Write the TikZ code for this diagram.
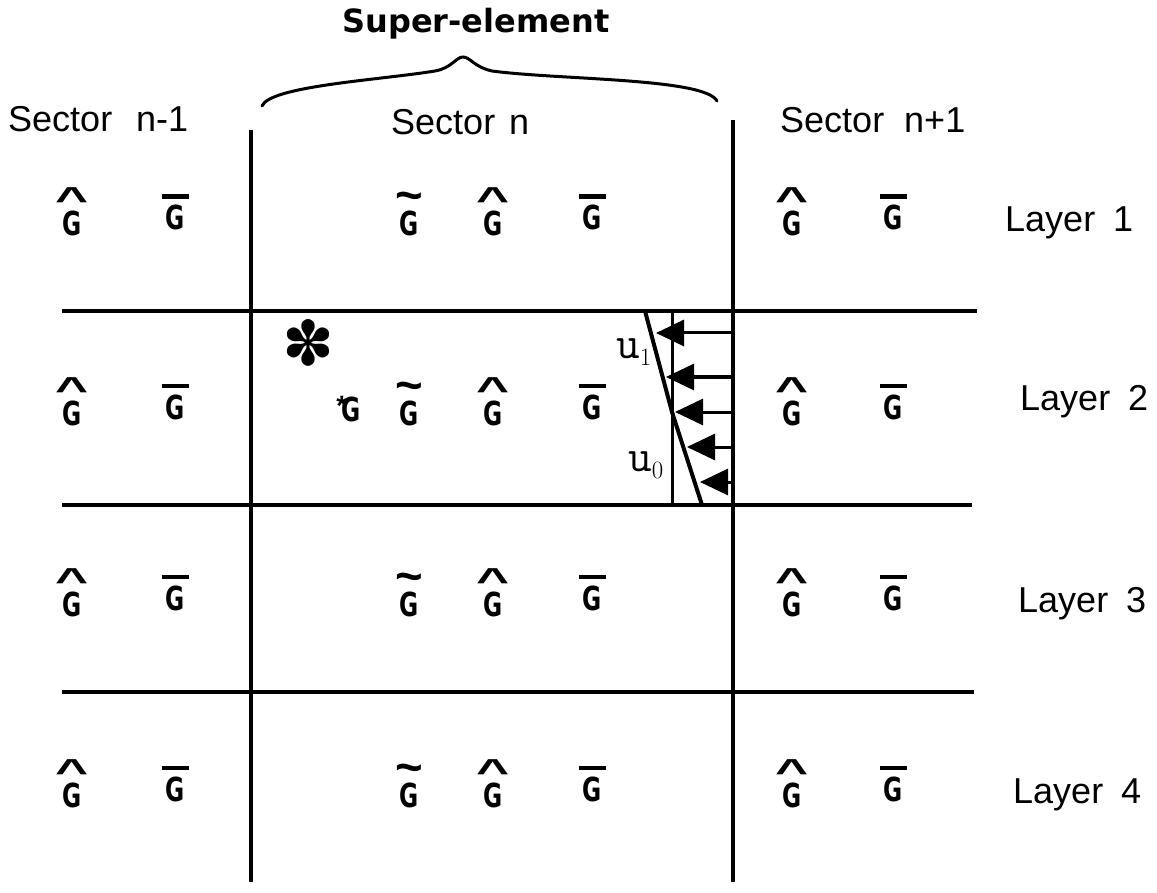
\documentclass[tikz,border=0pt]{standalone}
\usepackage{fontspec}
\setmainfont{Liberation Sans}
\newfontfamily\supfont{DejaVu Sans}
\usetikzlibrary{arrows.meta}
\newcommand\Gl{\scalebox{0.74}[1.05]{\supfont\bfseries G}}
\newcommand\accG[2]{\ooalign{\Gl\cr\hidewidth\raisebox{#2}{#1}\hidewidth\cr}}
\newcommand\GHat{\accG{\scalebox{1.8}[1.1]{\bfseries\textasciicircum}}{24pt}}
\newcommand\GTil{\accG{\scalebox{1.5}[1.5]{\bfseries\textasciitilde}}{24pt}}
\newcommand\GBar{\accG{\rule{27pt}{4.5pt}}{31pt}}
\newcommand\GStar{\ooalign{\Gl\cr\raisebox{6pt}{\kern-5pt\fontsize{28}{28}\selectfont\bfseries *}\hidewidth\cr}}
\tikzset{
  gsym/.style={anchor=base, inner sep=0pt, font=\fontsize{31.5}{38}\selectfont},
  lbl/.style={anchor=base west, inner sep=0pt, font=\fontsize{36}{42}\selectfont},
  gridline/.style={line width=4pt},
  vline/.style={line width=3.5pt},
  flow/.style={line width=3pt, -{Triangle[length=28pt,width=26pt]}},
  ulbl/.style={inner sep=0pt, font=\fontsize{46}{52}\selectfont\ttfamily}
}
\begin{document}
\begin{tikzpicture}[x=1pt,y=-1pt]
\useasboundingbox (0,0) rectangle (1157,893);
% title and brace
\node[anchor=base, inner sep=0pt, font=\fontsize{32}{38}\selectfont\supfont\bfseries] (super) at (476,33) {Super-element};
\draw[line width=3pt, line cap=round] (262,106) .. controls (270,86) and (380,80) .. (435,71)
  .. controls (452,68) and (456,57) .. (463,57)
  .. controls (470,57) and (474,67) .. (492,71)
  .. controls (560,80) and (705,78) .. (717,101);
% sector labels
\node[lbl] (s1) at (8,132) {Sector\hspace{24pt}n-1};
\node[lbl] (s2) at (391,135) {Sector\hspace{14pt}n};
\node[lbl] (s3) at (780,133) {Sector\hspace{20pt}n+1};
% layer labels
\node[lbl] (l1) at (1005,232) {Layer\hspace{18pt}1};
\node[lbl] (l2) at (1020,410) {Layer\hspace{18pt}2};
\node[lbl] (l3) at (1018,612) {Layer\hspace{18pt}3};
\node[lbl] (l4) at (1013,803) {Layer\hspace{18pt}4};
% grid lines
\coordinate (vl1) at (251,130); \coordinate (vl2) at (251,882);
\coordinate (vr1) at (733,120); \coordinate (vr2) at (733,882);
\draw[vline] (vl1) -- (vl2);
\draw[vline] (vr1) -- (vr2);
\coordinate (h1a) at (62,311); \coordinate (h1b) at (977,311);
\coordinate (h2a) at (62,505); \coordinate (h2b) at (972,505);
\coordinate (h3a) at (62,692); \coordinate (h3b) at (974,692);
\draw[gridline] (h1a) -- (h1b);
\draw[gridline] (h2a) -- (h2b);
\draw[gridline] (h3a) -- (h3b);
% G symbols
\foreach \r/\y in {1/236,2/425,3/616,4/807}{
  \node[gsym] (ha\r) at (72,\y) {\GHat};
  \node[gsym] (ba\r) at (175,\y-6) {\GBar};
  \node[gsym] (tb\r) at (409,\y) {\GTil};
  \node[gsym] (hb\r) at (493,\y) {\GHat};
  \node[gsym] (bb\r) at (592,\y-6) {\GBar};
  \node[gsym] (hc\r) at (792,\y) {\GHat};
  \node[gsym] (bc\r) at (893,\y-6) {\GBar};
}
\node[gsym] (gstar) at (351,421) {\GStar};
\node[inner sep=0pt, font=\fontsize{62}{68}\selectfont\supfont] (bigstar) at (308,343) {✽};
% velocity profile
\coordinate (sa) at (645,311); \coordinate (sb) at (672,412); \coordinate (sc) at (702,505);
\draw[line width=4pt] (sa) -- (sb) -- (sc);
\coordinate (va) at (672,311); \coordinate (vb) at (672,505);
\draw[line width=3pt] (va) -- (vb);
\foreach \i/\y/\x in {1/333/656,2/377/666,3/412/675,4/447/687,5/482/700}{
  \coordinate (r\i) at (733,\y);
  \coordinate (t\i) at (\x,\y);
  \draw[flow] (r\i) -- (t\i);
}
\node[ulbl] (u1) at (634,352) {u$_1$};
\node[ulbl] (u0) at (646,465) {u$_0$};
\end{tikzpicture}
\end{document}
